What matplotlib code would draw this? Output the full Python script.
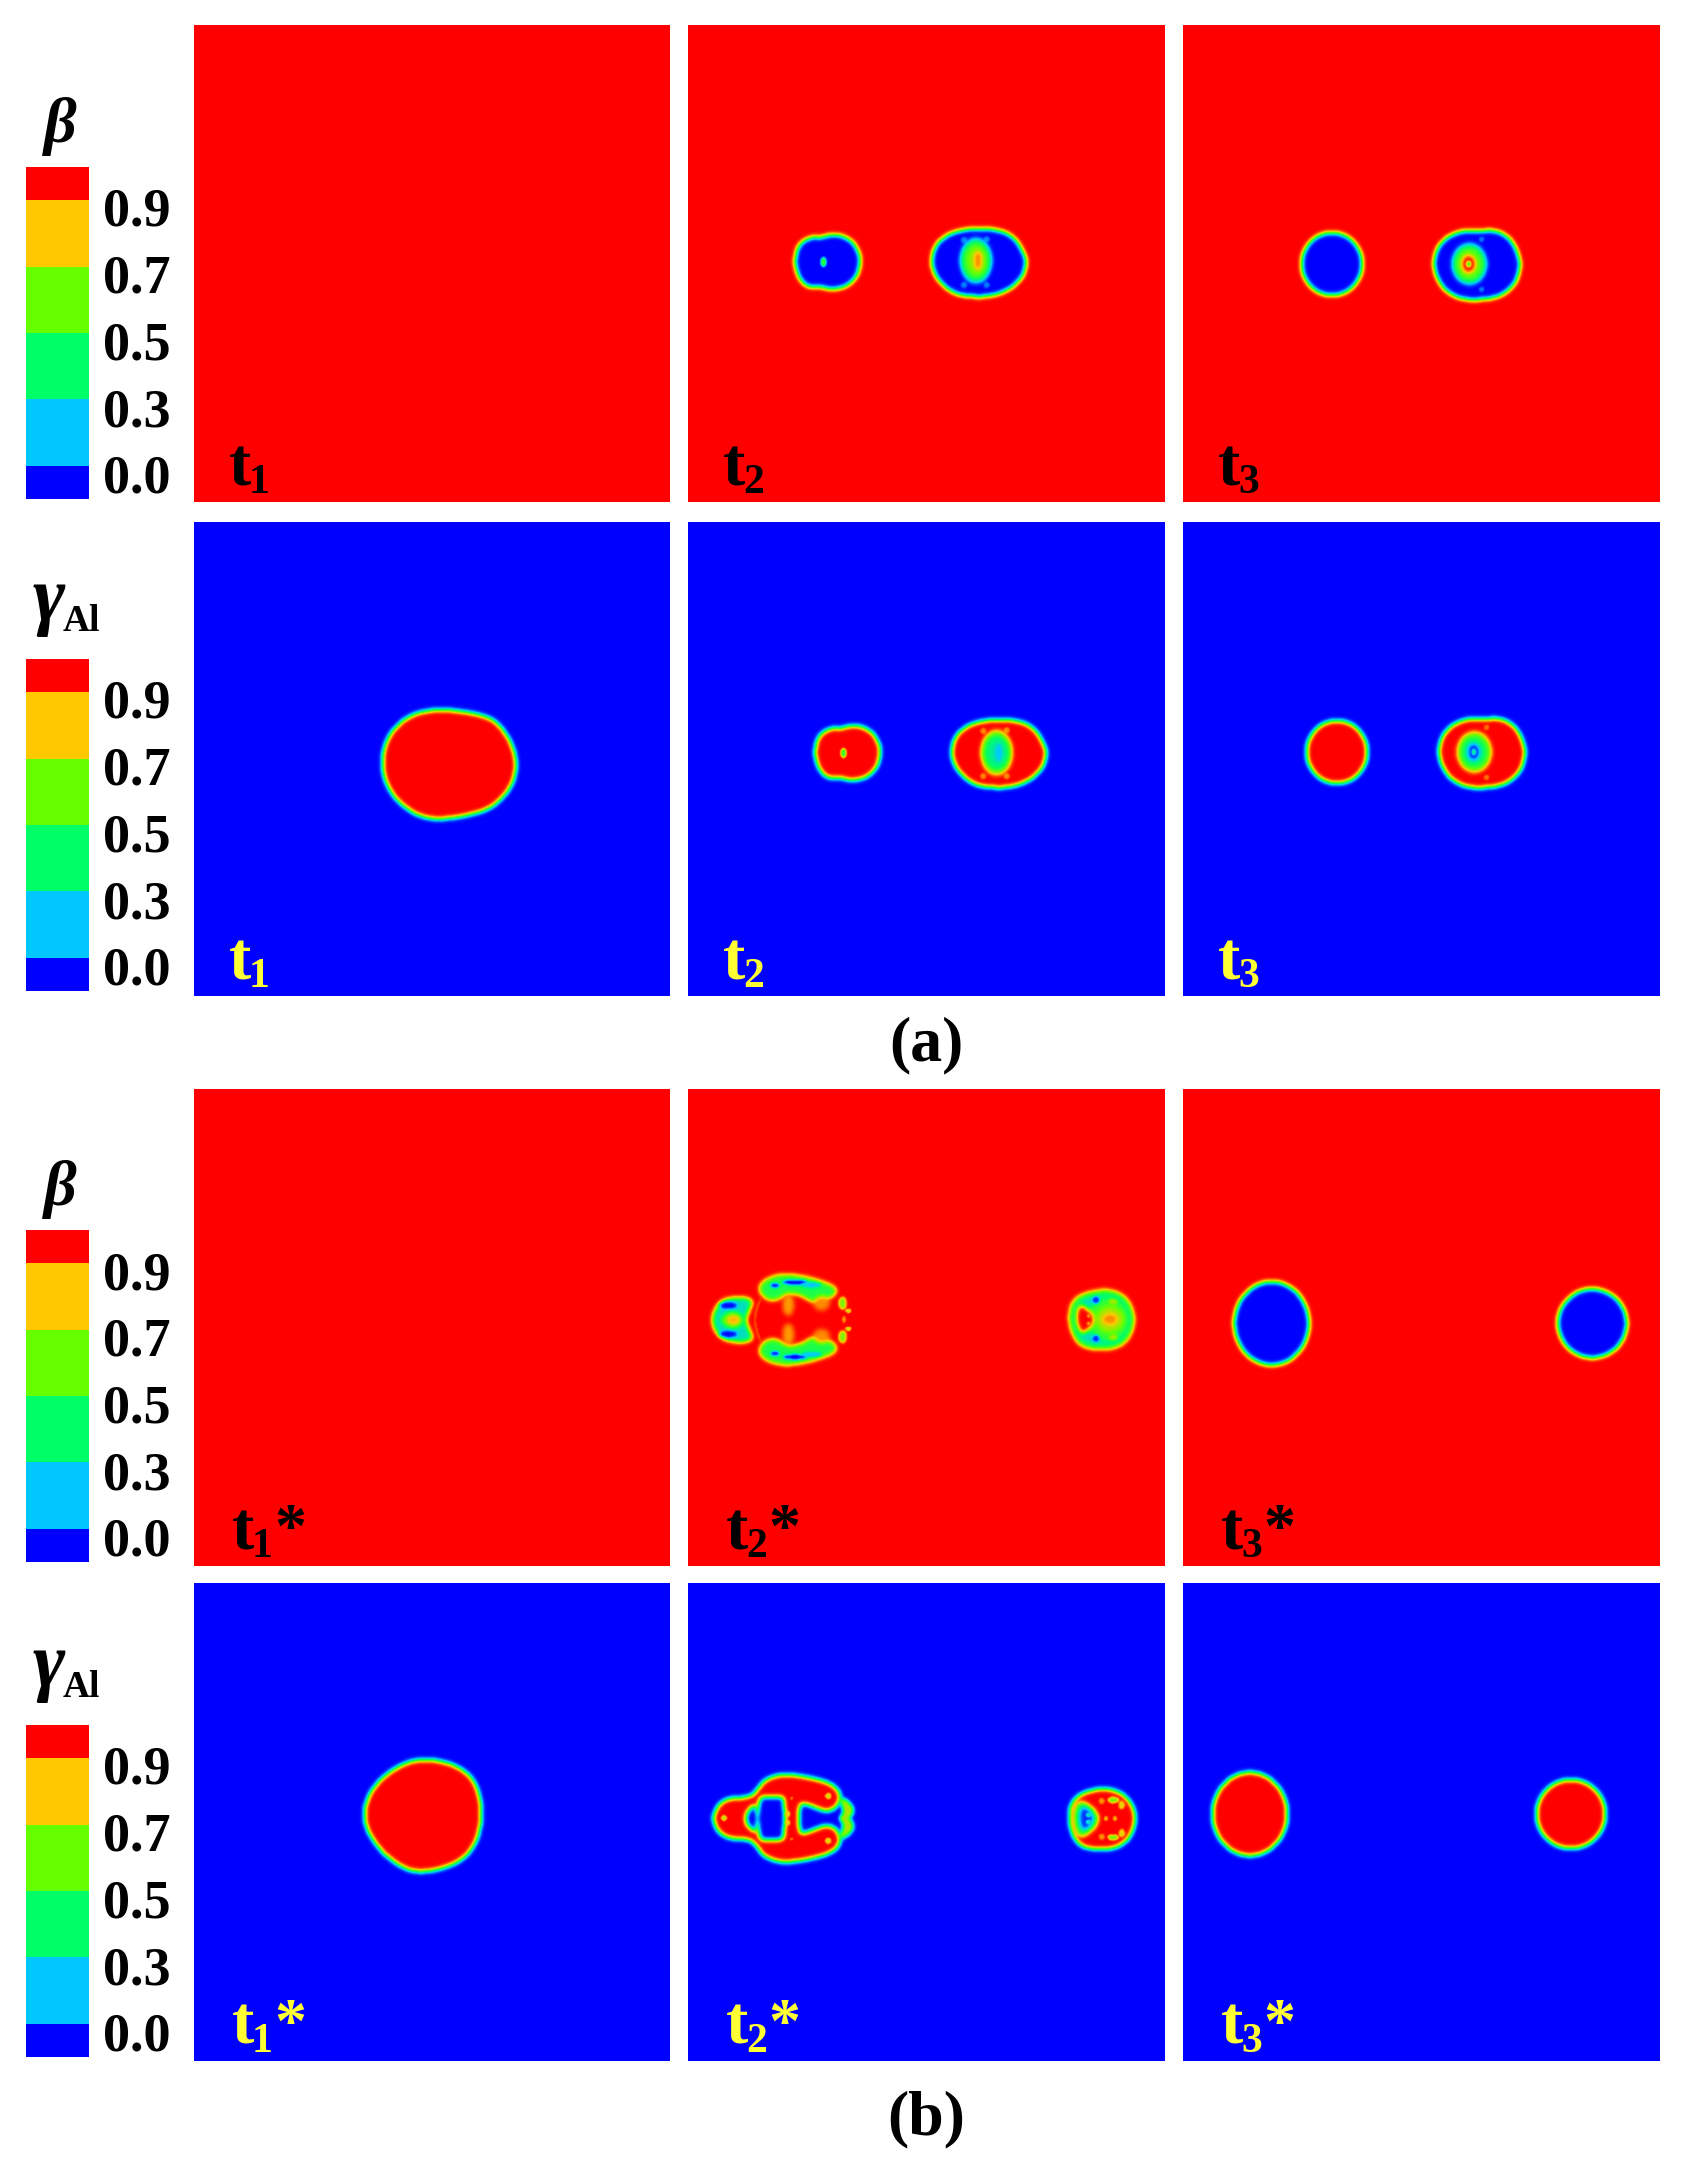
import numpy as np
import matplotlib
matplotlib.use('Agg')
import matplotlib.pyplot as plt
from matplotlib.colors import LinearSegmentedColormap
from matplotlib.path import Path

W, H = 1682, 2167
plt.rcParams['font.family'] = ['Liberation Serif', 'DejaVu Serif']

# panel frames in image pixels
COL_X = [(194, 670), (688, 1165), (1183, 1660)]
ROW_Y = [(25, 502), (522, 996), (1089, 1566), (1583, 2061)]

# colour bar
BAR_VALUES = [0.0, 0.3, 0.5, 0.7, 0.9, 1.0]
BAR_COLORS = ['#0000ff', '#00c8ff', '#00ff66', '#66ff00', '#ffc800', '#ff0000']
BAR_HEIGHTS = [0.5, 1, 1, 1, 1, 0.5]
BAR_TOPS = [167, 659, 1230, 1725]
BAR_LABELS = ['0.9', '0.7', '0.5', '0.3', '0.0']
ROW_NAMES = ['β', 'γ', 'β', 'γ']
ROW_BASE = [1.0, 0.0, 1.0, 0.0]
LABEL_COLORS = ['black', '#ffff33', 'black', '#ffff33']
TIME_SUBS = ['1', '2', '3']

A2_LEFT = [(200, 136), (240, 134), (277, 153), (297, 185), (302, 215), (294, 252), (272, 282), (235, 297),
           (205, 297), (180, 290), (150, 293), (123, 274), (108, 240), (105, 212), (110, 178), (128, 153),
           (160, 140), (180, 144)]
A2_RIGHT = [(650, 114), (720, 120), (765, 143), (793, 190), (800, 220), (788, 262), (752, 297), (700, 317),
            (650, 321), (590, 314), (548, 287), (522, 250), (514, 215), (522, 173), (548, 143), (590, 123)]
A3_RIGHT = [(230, 123), (292, 120), (333, 148), (355, 190), (361, 225), (353, 267), (327, 302), (287, 324),
            (230, 330), (180, 327), (138, 304), (110, 265), (100, 220), (110, 178), (133, 146), (180, 123)]
A1_GAMMA = [(230, 58), (290, 62), (352, 72), (404, 90), (444, 138), (469, 200), (466, 262), (439, 313),
            (392, 355), (330, 375), (270, 385), (220, 388), (163, 373), (107, 328), (76, 277), (66, 220),
            (74, 163), (107, 107), (163, 70)]
B1_GAMMA = [(205, 57), (272, 62), (333, 83), (379, 128), (399, 220), (379, 312), (333, 363), (272, 388),
            (200, 398), (148, 378), (92, 333), (51, 272), (41, 220), (56, 163), (97, 112), (148, 77)]

B2_LOBE = [(36, 240), (48, 201), (76, 174), (162, 174), (145, 215), (134, 240), (145, 265), (162, 304),
           (85, 306), (48, 279)]
B2_WEDGE = [(62, 232), (100, 208), (140, 240), (100, 272), (62, 248)]
B2_BAND_TOP = [(176, 130), (240, 100), (330, 112), (412, 142), (405, 168), (345, 192), (305, 165), (265, 158),
               (222, 185), (184, 168)]
B2_ARC = [(190, 160), (170, 190), (158, 239), (170, 290), (190, 318), (178, 285), (166, 239), (178, 195)]
B2_SMALL = [(1180, 152), (1242, 150), (1287, 180), (1306, 238), (1287, 300), (1242, 328), (1168, 328),
            (1126, 305), (1104, 240), (1118, 176)]
B2_SMALL_IN = [(1182, 168), (1238, 166), (1274, 190), (1290, 238), (1274, 288), (1238, 312), (1170, 312),
               (1136, 293), (1120, 240), (1131, 186)]
B2_CUT = [(1138, 182), (1196, 238), (1145, 292), (1124, 240)]

C_TOP = [(40, 232), (52, 196), (85, 174), (150, 172), (170, 152), (192, 120), (245, 101), (330, 112), (400, 133),
         (424, 165), (412, 202), (380, 216), (345, 202), (302, 186), (298, 210), (296, 235)]
C_HOLE = [(190, 170), (240, 170), (254, 176), (254, 292), (240, 300), (190, 302), (178, 294), (170, 235), (178, 178)]
C_TRI = [(166, 186), (128, 235), (166, 284), (176, 235)]
C_FRINGE = [(414, 172), (442, 180), (466, 212), (442, 242), (418, 242), (434, 212)]
D_BLOB = [(1178, 147), (1242, 147), (1290, 178), (1310, 235), (1290, 297), (1242, 328), (1165, 328),
          (1125, 305), (1105, 238), (1117, 176)]
D_RIM = [(1136, 170), (1212, 235), (1140, 305), (1116, 238)]
D_CUT = [(1146, 188), (1192, 235), (1150, 282), (1132, 238)]


def mirror(pts, yc):
    return [(x, 2 * yc - y) for x, y in pts][::-1]


C_BODY = C_TOP + mirror(C_TOP, 235)

# layers: (outline, value) or (cx, cy, rx, ry, value), painted in order, each panel has its crop origin
PANELS = {
    (0, 0): ((0, 0), []),
    (1, 0): ((360, 690), [(A1_GAMMA, 1.0)]),
    (0, 1): ((760, 190), [
        (A2_LEFT, 0.0), (190, 216, 8, 14, 0.5),
        (A2_RIGHT, 0.0), (612, 150, 9, 9, 0.13), (680, 148, 9, 9, 0.13), (612, 285, 9, 9, 0.13), (680, 285, 9, 9, 0.13),
        (648, 212, 47, 68, 0.3), (648, 212, 40, 56, 0.52), (650, 212, 26, 40, 0.66), (654, 212, 13, 28, 0.86)]),
    (1, 1): ((780, 681), [
        (A2_LEFT, 1.0), (190, 216, 8, 14, 0.5),
        (A2_RIGHT, 1.0), (610, 150, 9, 9, 0.86), (680, 148, 9, 9, 0.86), (610, 286, 9, 9, 0.86), (680, 286, 9, 9, 0.86),
        (650, 215, 47, 68, 0.72), (650, 215, 40, 56, 0.42), (652, 215, 26, 40, 0.33), (656, 215, 10, 26, 0.2)]),
    (0, 2): ((1400, 190), [
        (-204, 222, 91, 94, 0.0),
        (A3_RIGHT, 0.0), (245, 148, 8, 8, 0.12), (245, 298, 8, 8, 0.12),
        (208, 222, 52, 62, 0.28), (208, 222, 44, 52, 0.55), (206, 222, 24, 30, 0.85), (206, 222, 16, 22, 0.98),
        (206, 222, 7, 10, 0.62)]),
    (1, 2): ((1405, 678), [
        (-204, 222, 91, 94, 1.0),
        (A3_RIGHT, 1.0), (245, 148, 8, 8, 0.88), (245, 298, 8, 8, 0.88),
        (208, 222, 52, 62, 0.75), (208, 222, 44, 52, 0.45), (206, 222, 24, 30, 0.22), (206, 222, 15, 22, 0.05),
        (206, 222, 6, 9, 0.35)]),
    (2, 0): ((0, 0), []),
    (3, 0): ((350, 1740), [(B1_GAMMA, 1.0)]),
    (2, 1): ((700, 1240), [
        (B2_LOBE, 0.28), (85, 197, 27, 11, 0.0), (85, 282, 27, 11, 0.0), (B2_WEDGE, 0.62), (100, 240, 20, 14, 0.82),
        (B2_BAND_TOP, 0.45), (mirror(B2_BAND_TOP, 239), 0.45), (B2_ARC, 0.93),
        (285, 127, 38, 8, 0.0), (285, 351, 38, 8, 0.0), (225, 137, 14, 8, 0.05), (225, 341, 14, 8, 0.05),
        (335, 135, 30, 8, 0.2), (335, 343, 30, 8, 0.2),
        (265, 195, 17, 32, 0.84), (265, 283, 17, 32, 0.84), (365, 190, 24, 22, 0.86), (365, 288, 24, 22, 0.86),
        (428, 190, 11, 18, 0.62), (428, 290, 11, 18, 0.62), (445, 212, 9, 6, 0.75), (445, 266, 9, 6, 0.75),
        (432, 239, 5, 11, 0.85),
        (B2_SMALL, 0.45), (B2_SMALL_IN, 0.27), (1225, 238, 62, 66, 0.5), (1230, 238, 42, 40, 0.68),
        (1230, 238, 24, 18, 0.86),
        (1188, 180, 11, 11, 0.05), (1188, 296, 11, 11, 0.05), (1240, 185, 13, 9, 0.68), (1240, 292, 13, 9, 0.68),
        (B2_CUT, 1.0), (1165, 228, 5, 5, 0.82), (1165, 250, 5, 5, 0.82)]),
    (3, 1): ((700, 1740), [
        (C_BODY, 1.0),
        (C_HOLE, 0.0), (C_TRI, 0.0),
        (263, 222, 8, 8, 0.78), (263, 248, 8, 8, 0.78), (72, 234, 8, 9, 0.72), (385, 168, 9, 9, 0.75),
        (385, 302, 9, 9, 0.75), (275, 175, 4, 4, 0.85), (275, 297, 4, 4, 0.85),
        (C_FRINGE, 0.72), (mirror(C_FRINGE, 235), 0.72),
        (D_BLOB, 1.0), (D_RIM, 0.5), (D_CUT, 0.05), (1165, 225, 7, 7, 0.3), (1165, 246, 7, 7, 0.3),
        (1218, 235, 7, 7, 0.82), (1245, 235, 7, 7, 0.82), (1205, 183, 9, 9, 0.85), (1205, 290, 9, 9, 0.85),
        (1240, 180, 16, 8, 0.62), (1240, 292, 16, 8, 0.62), (1265, 195, 9, 12, 0.75), (1265, 280, 9, 12, 0.75)]),
    (2, 2): ((1210, 1260), [(185, 190, 112, 125, 0.0), (1147, 190, 103, 103, 0.0)]),
    (3, 2): ((1210, 1750), [(120, 192, 112, 125, 1.0), (1083, 192, 103, 103, 1.0)]),
}

field_cmap = LinearSegmentedColormap.from_list('field', BAR_COLORS, N=256)
SIGMA = 2.4


def chaikin(pts, n=2):
    p = np.array(pts, dtype=float)
    for _ in range(n):
        q = np.roll(p, -1, axis=0)
        p = np.column_stack([0.75 * p + 0.25 * q, 0.25 * p + 0.75 * q]).reshape(-1, 2)
    return p


def blur(a, sigma):
    fy = np.fft.fftfreq(a.shape[0])[:, None]
    fx = np.fft.rfftfreq(a.shape[1])[None, :]
    g = np.exp(-2 * (np.pi * sigma) ** 2 * (fx ** 2 + fy ** 2))
    return np.fft.irfft2(np.fft.rfft2(a) * g, s=a.shape)


def soften(mask):
    # thin features get less blur or they wash out
    edge = (mask != np.roll(mask, 1, axis=0)) | (mask != np.roll(mask, 1, axis=1))
    thick = 2 * mask.sum() / max(edge.sum(), 1)
    return np.clip(blur(mask.astype(float), min(SIGMA, max(0.8, 0.35 * thick))), 0, 1)


def make_field(row, col):
    x0, x1 = COL_X[col]
    y0, y1 = ROW_Y[row]
    xx, yy = np.meshgrid(np.arange(x0, x1) + 0.5, np.arange(y0, y1) + 0.5)
    f = np.full(xx.shape, ROW_BASE[row])
    (ox, oy), layers = PANELS[(row, col)]
    for lay in layers:
        if len(lay) == 2:
            pts = chaikin(lay[0]) / 3 + [ox, oy]
            mask = Path(pts).contains_points(np.column_stack([xx.ravel(), yy.ravel()])).reshape(xx.shape)
            v = lay[1]
        else:
            cx, cy, rx, ry, v = lay
            mask = ((xx - ox - cx / 3) / (rx / 3)) ** 2 + ((yy - oy - cy / 3) / (ry / 3)) ** 2 <= 1
        m = soften(mask)
        f = f * (1 - m) + v * m
    return f


fig = plt.figure(figsize=(W / 100, H / 100), dpi=100, facecolor='white')


def px_axes(x0, x1, y0, y1):
    return fig.add_axes([x0 / W, 1 - y1 / H, (x1 - x0) / W, (y1 - y0) / H])


for row in range(4):
    for col in range(3):
        ax = px_axes(*COL_X[col], *ROW_Y[row])
        ax.imshow(make_field(row, col), cmap=field_cmap, vmin=0, vmax=1, aspect='auto', interpolation='bilinear')
        ax.axis('off')

# colour bars
for top in BAR_TOPS:
    ax = px_axes(26, 89, top, top + 332)
    ax.bar([0] * len(BAR_VALUES), BAR_HEIGHTS, width=1, bottom=np.cumsum([0] + BAR_HEIGHTS[:-1]), color=BAR_COLORS)
    ax.set_xlim(-0.5, 0.5)
    ax.set_ylim(0, sum(BAR_HEIGHTS))
    ax.axis('off')

# all text goes on one overlay in image pixels
ov = fig.add_axes([0, 0, 1, 1], facecolor='none')
ov.set_xlim(0, W)
ov.set_ylim(H, 0)
ov.axis('off')

for row, top in enumerate(BAR_TOPS):
    for i, lab in enumerate(BAR_LABELS):
        ov.text(103, top + 59 + i * 66.7, lab, fontsize=39, fontweight='bold', va='baseline', ha='left')
    if ROW_NAMES[row] == 'β':
        ov.text(60, top - 25, 'β', fontsize=46, fontweight='bold', fontstyle='italic', ha='center', va='baseline')
    else:
        ov.text(33, top - 39, 'γ', fontsize=56, fontweight='bold', fontstyle='italic', ha='left', va='baseline')
        ov.text(63, top - 28, 'Al', fontsize=27, fontweight='bold', ha='left', va='baseline')

for row in range(4):
    for col in range(3):
        x = COL_X[col][0] + (35 if row < 2 else 38)
        y = ROW_Y[row][1] - 17
        c = LABEL_COLORS[row]
        ov.text(x, y, 't', fontsize=48, fontweight='bold', color=c, va='baseline')
        ov.text(x + 20, y + 8, TIME_SUBS[col], fontsize=30, fontweight='bold', color=c, va='baseline')
        if row >= 2:
            ov.text(x + 42, y - 2, '*', fontsize=46, fontweight='bold', color=c, va='baseline')

ov.text(926, 1060, '(a)', fontsize=46, fontweight='bold', ha='center', va='baseline')
ov.text(926, 2134, '(b)', fontsize=46, fontweight='bold', ha='center', va='baseline')

fig.savefig('out.png', dpi=100, facecolor='white')
